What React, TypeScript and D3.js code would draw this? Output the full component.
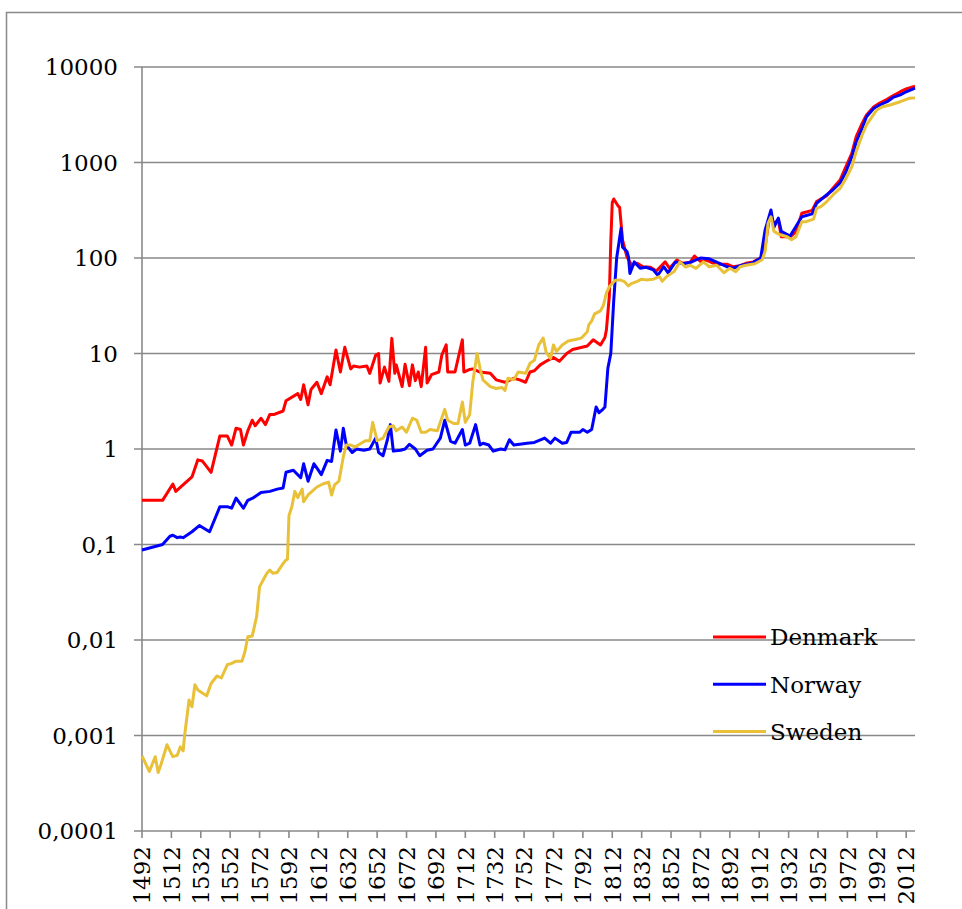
import React from 'react'
import * as d3 from 'd3'

// [year, price level]
const denmark: [number, number][] = [
  [1492, 0.29], [1506, 0.29], [1513, 0.43], [1515, 0.36], [1526, 0.51], [1530, 0.77], [1533, 0.75],
  [1539, 0.57], [1545, 1.37], [1550, 1.37], [1553, 1.1], [1556, 1.65], [1559, 1.6], [1561, 1.1],
  [1564, 1.55], [1567, 2.0], [1569, 1.75], [1573, 2.1], [1576, 1.8], [1579, 2.3], [1582, 2.3],
  [1588, 2.5], [1590, 3.2], [1598, 3.8], [1600, 3.3], [1602, 4.7], [1605, 2.9], [1607, 4.2],
  [1611, 5.0], [1614, 3.8], [1618, 5.7], [1620, 4.7], [1624, 10.9], [1627, 6.4], [1630, 11.6],
  [1634, 6.9], [1636, 7.4], [1640, 7.2], [1645, 7.4], [1647, 6.2], [1651, 9.6], [1653, 10],
  [1654, 4.9], [1657, 7.2], [1660, 5.1], [1662, 14.4], [1664, 6.2], [1665, 7.6], [1669, 4.5],
  [1671, 7.7], [1674, 4.6], [1676, 7.6], [1678, 5.2], [1680, 6.4], [1682, 4.5], [1685, 11.6],
  [1686, 4.9], [1689, 6.0], [1694, 6.4], [1696, 9.6], [1699, 12.3], [1700, 6.4], [1705, 6.4],
  [1710, 13.9], [1711, 6.4], [1715, 6.8], [1717, 6.9], [1722, 6.4], [1729, 6.2], [1733, 5.3],
  [1739, 5.0], [1745, 5.5], [1749, 5.3], [1753, 5.0], [1756, 6.4], [1759, 6.6], [1763, 7.6],
  [1767, 8.3], [1772, 9.1], [1776, 8.3], [1781, 10], [1785, 11], [1790, 11.5], [1795, 12],
  [1799, 13.9], [1804, 12.3], [1807, 14.7], [1808, 17.6], [1810, 40], [1811, 150], [1812, 380],
  [1813, 415], [1816, 350], [1817, 340], [1819, 154], [1822, 103], [1825, 85], [1829, 88],
  [1833, 81], [1838, 80], [1842, 73], [1848, 91], [1851, 78], [1856, 95], [1860, 88], [1865, 90],
  [1868, 105], [1872, 92], [1876, 95], [1881, 88], [1885, 86], [1890, 86], [1894, 81], [1899, 83],
  [1903, 88], [1908, 91], [1913, 100], [1916, 131], [1919, 271], [1922, 231], [1925, 250],
  [1927, 167], [1933, 167], [1937, 188], [1941, 294], [1948, 315], [1951, 389], [1958, 450],
  [1962, 535], [1967, 656], [1971, 903], [1975, 1247], [1978, 1862], [1982, 2570], [1985, 3143],
  [1990, 3840], [1994, 4200], [1999, 4590], [2003, 5000], [2008, 5510], [2012, 5900], [2018, 6300],
]

const norway: [number, number][] = [
  [1492, 0.0875], [1506, 0.1], [1511, 0.122], [1513, 0.125], [1516, 0.118], [1518, 0.12],
  [1520, 0.118], [1526, 0.136], [1531, 0.158], [1538, 0.136], [1545, 0.249], [1550, 0.249],
  [1553, 0.24], [1556, 0.306], [1561, 0.24], [1564, 0.29], [1568, 0.31], [1573, 0.35],
  [1579, 0.36], [1584, 0.38], [1588, 0.39], [1590, 0.57], [1595, 0.6], [1600, 0.5], [1602, 0.7],
  [1605, 0.46], [1609, 0.7], [1612, 0.6], [1614, 0.54], [1618, 0.76], [1621, 0.74], [1624, 1.58],
  [1627, 0.95], [1629, 1.65], [1631, 1.1], [1635, 0.92], [1638, 1.0], [1643, 0.97], [1647, 1.0],
  [1651, 1.3], [1653, 0.92], [1656, 0.85], [1659, 1.25], [1661, 1.8], [1663, 0.95], [1668, 0.97],
  [1671, 1.0], [1674, 1.12], [1678, 1.0], [1681, 0.85], [1686, 0.97], [1690, 1.0], [1695, 1.3],
  [1698, 2.0], [1702, 1.2], [1705, 1.15], [1710, 1.6], [1712, 1.1], [1715, 1.15], [1719, 1.8],
  [1722, 1.1], [1724, 1.15], [1728, 1.1], [1731, 0.95], [1736, 1.0], [1739, 0.98], [1742, 1.25],
  [1745, 1.1], [1749, 1.12], [1754, 1.15], [1759, 1.17], [1766, 1.3], [1770, 1.15], [1773, 1.3],
  [1778, 1.15], [1781, 1.17], [1784, 1.5], [1790, 1.5], [1792, 1.6], [1795, 1.5], [1798, 1.6],
  [1801, 2.75], [1803, 2.4], [1805, 2.55], [1807, 2.75], [1809, 7.0], [1811, 10], [1813, 36],
  [1815, 100], [1818, 205], [1819, 130], [1822, 117], [1823, 103], [1824, 69], [1827, 91],
  [1831, 78], [1835, 80], [1840, 75], [1843, 66], [1847, 81], [1850, 70], [1855, 91], [1860, 87],
  [1866, 91], [1872, 100], [1878, 98], [1885, 88], [1890, 81], [1894, 78], [1900, 84], [1907, 88],
  [1913, 100], [1916, 196], [1920, 318], [1922, 210], [1925, 262], [1927, 190], [1933, 170],
  [1941, 270], [1948, 290], [1951, 373], [1958, 460], [1962, 515], [1967, 610], [1971, 800],
  [1975, 1150], [1978, 1650], [1982, 2280], [1985, 3020], [1990, 3700], [1994, 4000],
  [1999, 4330], [2003, 4800], [2008, 5100], [2012, 5500], [2018, 6000],
]

const sweden: [number, number][] = [
  [1492, 0.00061], [1497, 0.00042], [1501, 0.0006], [1503, 0.00041], [1505, 0.0005],
  [1509, 0.0008], [1511, 0.00069], [1513, 0.0006], [1516, 0.00062], [1518, 0.00076],
  [1520, 0.00069], [1521, 0.001], [1524, 0.00235], [1526, 0.002], [1528, 0.0034], [1530, 0.003],
  [1536, 0.0026], [1539, 0.0035], [1543, 0.0042], [1546, 0.004], [1550, 0.0055], [1553, 0.0057],
  [1556, 0.006], [1560, 0.006], [1562, 0.0075], [1564, 0.0108], [1567, 0.011], [1570, 0.0176],
  [1572, 0.036], [1575, 0.044], [1577, 0.05], [1579, 0.054], [1581, 0.05], [1584, 0.051],
  [1588, 0.063], [1590, 0.069], [1591, 0.07], [1592, 0.2], [1594, 0.25], [1596, 0.36],
  [1598, 0.31], [1601, 0.38], [1602, 0.28], [1605, 0.33], [1611, 0.4], [1615, 0.43], [1619, 0.45],
  [1621, 0.33], [1623, 0.42], [1626, 0.46], [1629, 0.83], [1631, 1.1], [1634, 1.1], [1637, 1.05],
  [1640, 1.12], [1644, 1.22], [1647, 1.22], [1649, 1.9], [1652, 1.22], [1656, 1.3], [1660, 1.7],
  [1663, 1.75], [1665, 1.55], [1669, 1.7], [1672, 1.5], [1676, 2.1], [1679, 2.0], [1682, 1.5],
  [1685, 1.5], [1688, 1.6], [1693, 1.55], [1698, 2.6], [1700, 2.0], [1704, 1.85], [1707, 1.85],
  [1710, 3.1], [1712, 1.9], [1715, 2.3], [1717, 4.9], [1720, 10], [1722, 7], [1724, 5.3],
  [1729, 4.5], [1733, 4.3], [1737, 4.4], [1739, 4.1], [1741, 5.5], [1745, 5.3], [1748, 6.4],
  [1753, 6.2], [1756, 7.9], [1759, 8.5], [1762, 12.3], [1765, 14.5], [1767, 10.3], [1770, 8.9],
  [1772, 12.3], [1774, 10.5], [1778, 12.3], [1782, 13.5], [1787, 14], [1791, 14.5], [1795, 16.9],
  [1796, 19.9], [1798, 22], [1800, 26], [1804, 28], [1806, 32], [1808, 43], [1810, 50],
  [1814, 58.6], [1817, 59], [1820, 57], [1823, 51], [1825, 54], [1829, 57], [1832, 60],
  [1835, 59], [1840, 60], [1844, 64], [1846, 57], [1849, 64], [1854, 72], [1858, 91], [1862, 80],
  [1865, 84], [1869, 78], [1874, 91], [1878, 81], [1883, 84], [1888, 70], [1892, 78], [1896, 72],
  [1899, 81], [1903, 84], [1909, 87], [1914, 96], [1916, 117], [1918, 230], [1920, 270],
  [1922, 190], [1926, 175], [1931, 167], [1934, 155], [1937, 167], [1941, 240], [1944, 240],
  [1949, 255], [1951, 330], [1954, 345], [1958, 390], [1962, 455], [1967, 536], [1971, 680],
  [1975, 900], [1978, 1300], [1982, 1930], [1985, 2470], [1988, 2900], [1992, 3550],
  [1996, 3840], [2001, 4000], [2008, 4330], [2014, 4700], [2018, 4750],
]

const yTicks = [0.0001, 0.001, 0.01, 0.1, 1, 10, 100, 1000, 10000]
const yTickLabels = ['0,0001', '0,001', '0,01', '0,1', '1', '10', '100', '1000', '10000']
const xTicks = d3.range(1492, 2013, 20)

const series = [
  { name: 'Denmark', data: denmark, color: '#ff0000' },
  { name: 'Norway', data: norway, color: '#0000ff' },
  { name: 'Sweden', data: sweden, color: '#e8c139' },
]

const gridColor = '#898989'
const font = 'DejaVu Serif'

export default function App() {
  const x = d3.scaleLinear().domain([1492, 2018]).range([142, 915])
  const y = d3.scaleLog().domain([0.0001, 10000]).range([831, 67])

  const line = d3
    .line<[number, number]>()
    .x((d) => x(d[0]))
    .y((d) => y(d[1]))

  return (
    <svg
      width={962}
      height={909}
      style={{ position: 'absolute', left: 0, top: 0, background: '#fff' }}
      fontFamily={font}
    >
      <rect x={6.5} y={12.5} width={1000} height={1000} fill="#fff" stroke={gridColor} strokeWidth={1.5} />

      {/* gridlines + y labels */}
      {yTicks.map((t, i) => (
        <g key={t}>
          <line x1={134} x2={915} y1={y(t)} y2={y(t)} stroke={gridColor} strokeWidth={1.6} />
          <text x={118} y={y(t)} dy="0.36em" textAnchor="end" fontSize={23} fill="#000">
            {yTickLabels[i]}
          </text>
        </g>
      ))}

      {/* axes */}
      <line x1={142} x2={142} y1={67} y2={831} stroke={gridColor} strokeWidth={1.6} />
      {xTicks.map((t) => (
        <g key={t}>
          <line x1={x(t)} x2={x(t)} y1={831} y2={838} stroke={gridColor} strokeWidth={1.6} />
          <text
            transform={`translate(${x(t)},846) rotate(-90)`}
            dy="0.36em"
            textAnchor="end"
            fontSize={23}
            fill="#000"
          >
            {t}
          </text>
        </g>
      ))}

      {series.map((s) => (
        <path key={s.name} d={line(s.data) || ''} fill="none" stroke={s.color} strokeWidth={3} strokeLinejoin="round" />
      ))}

      {/* legend */}
      {series.map((s, i) => {
        const ly = 637 + i * 47.3
        return (
          <g key={s.name}>
            <line x1={713} x2={766} y1={ly} y2={ly} stroke={s.color} strokeWidth={3} />
            <text x={770} y={ly} dy="0.36em" fontSize={23} fill="#000">
              {s.name}
            </text>
          </g>
        )
      })}
    </svg>
  )
}
